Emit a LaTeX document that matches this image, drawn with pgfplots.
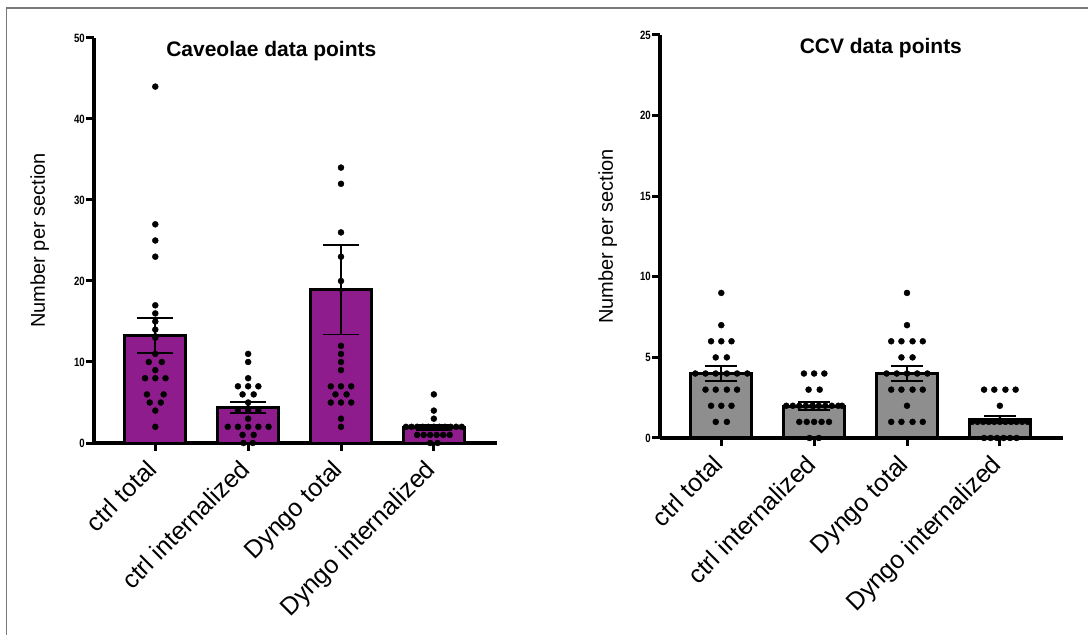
\documentclass[border=0pt]{standalone}
\usepackage{fontspec}
\setmainfont{Liberation Sans}
\newfontfamily\narrowfont[FakeStretch=0.8]{Liberation Sans}
\usepackage{pgfplots}
\pgfplotsset{compat=1.18}
\definecolor{cavpurple}{RGB}{142,28,140}
\definecolor{ccvgray}{RGB}{142,142,142}
\definecolor{framegray}{RGB}{120,120,120}
\pgfplotsset{prism/.style={
  scale only axis, width=403pt,
  axis lines=left,
  axis line style={line width=3.2pt,-,black},
  x axis line style={line width=3.2pt,-},
  y axis line style={line width=3.2pt,-},
  xmin=-0.66, xmax=3.68, ymin=0,
  xtick={0,1,2,3},
  xticklabels={ctrl total, ctrl internalized, Dyngo total, Dyngo internalized},
  x tick label style={rotate=45, anchor=north east, font=\fontsize{25}{25}\selectfont, inner sep=0pt, xshift=-12pt, yshift=2pt},
  tick align=outside, major tick length=8pt,
  every tick/.append style={line width=3pt, black},
  /pgf/number format/assume math mode=true,
  y tick label style={font=\narrowfont\bfseries\fontsize{12}{12}\selectfont, inner sep=1pt},
  ylabel={Number per section},
  ylabel style={font=\fontsize{20}{20}\selectfont, at={(axis description cs:-0.135,0.5)}, anchor=center},
  title style={font=\bfseries\fontsize{21}{21}\selectfont, anchor=north},
  clip=false,
}}
\begin{document}
\begin{tikzpicture}[x=1pt,y=1pt]
\useasboundingbox (0,0) rectangle (1088,635);
\draw[framegray, line width=1.6pt] (1095,627) -- (6.5,627) -- (6.5,-5);
% ---------------- Left: Caveolae ----------------
\begin{axis}[prism, at={(94pt,192pt)}, anchor=south west, height=405pt,
  ymax=50, ytick={0,10,20,30,40,50},
  title={Caveolae data points}, title style={at={(axis description cs:0.44,0.985)}}]
\addplot[ybar, bar width=61pt, fill=cavpurple, draw=black, line width=3pt]
  coordinates {(0,13.3) (1,4.4) (2,18.9) (3,1.95)};
\addplot[only marks, mark=*, mark size=3pt, black] coordinates {
 (0,44) (0,27) (0,25) (0,23) (0,17) (0,16) (0,15) (0,14) (0,13) (0,11)
 (-0.07,10) (0.07,10) (0,9) (-0.11,8) (0,8) (0.11,8) (-0.09,6) (0.09,6)
 (-0.06,5) (0.06,5) (0,4) (0,2)
 (1,11) (1,10) (1,8) (0.89,7) (1,7) (1.11,7) (0.94,6) (1.06,6) (1,5)
 (0.89,4) (1,4) (1.11,4) (1,3) (0.78,2) (0.89,2) (1,2) (1.11,2) (1.22,2)
 (0.94,1) (1.06,1) (0.95,0) (1.05,0)
 (2,34) (2,32) (2,26) (2,23) (2,20) (2,12) (2,11) (2,10) (2,9)
 (1.89,7) (2,7) (2.11,7) (1.94,6) (2.06,6) (1.89,5) (2,5) (2.11,5) (2,3) (2,2)
 (3,6) (3,4) (3,3)
 (2.7,2) (2.76,2) (2.82,2) (2.88,2) (2.94,2) (3,2) (3.06,2) (3.12,2) (3.18,2) (3.24,2) (3.3,2)
 (2.82,1) (2.89,1) (2.96,1) (3.03,1) (3.1,1) (3.17,1)
 (2.96,0) (3.04,0)
};
\addplot[only marks, mark=none, error bars/.cd, y dir=both, y explicit, error mark=|,
  error bar style={line width=1.8pt, black},
  error mark options={mark size=18pt, line width=1.8pt, black}]
  coordinates {(0,13.3) +- (0,2.15) (1,4.4) +- (0,0.7) (2,18.9) +- (0,5.5) (3,1.95) +- (0,0.3)};
\end{axis}
% ---------------- Right: CCV ----------------
\begin{axis}[prism, at={(660pt,197pt)}, anchor=south west, height=403pt,
  ymax=25, ytick={0,5,10,15,20,25},
  ylabel style={at={(axis description cs:-0.13,0.5)}},
  title={CCV data points}, title style={at={(axis description cs:0.548,0.985)}}]
\addplot[ybar, bar width=61pt, fill=ccvgray, draw=black, line width=3pt]
  coordinates {(0,4.0) (1,1.97) (2,4.0) (3,1.15)};
\addplot[only marks, mark=*, mark size=3pt, black] coordinates {
 (0,9) (0,7) (-0.11,6) (0,6) (0.11,6) (-0.06,5) (0.06,5)
 (-0.28,4) (-0.17,4) (-0.06,4) (0.06,4) (0.17,4) (0.28,4)
 (-0.17,3) (-0.06,3) (0.06,3) (0.17,3) (-0.11,2) (0,2) (0.11,2) (-0.06,1) (0.06,1)
 (0.89,4) (1,4) (1.11,4) (0.94,3) (1.06,3)
 (0.7,2) (0.77,2) (0.84,2) (0.91,2) (0.98,2) (1.05,2) (1.12,2) (1.19,2) (1.26,2) (1.3,2)
 (0.84,1) (0.92,1) (1,1) (1.08,1) (1.16,1) (0.95,0) (1.05,0)
 (2,9) (2,7) (1.83,6) (1.94,6) (2.06,6) (2.17,6) (1.94,5) (2.06,5)
 (1.78,4) (1.89,4) (2,4) (2.11,4) (2.22,4)
 (1.83,3) (1.94,3) (2.06,3) (2.17,3) (2,2) (1.83,1) (1.94,1) (2.06,1) (2.17,1)
 (2.83,3) (2.94,3) (3.06,3) (3.17,3) (3,2)
 (2.7,1) (2.76,1) (2.82,1) (2.88,1) (2.94,1) (3,1) (3.06,1) (3.12,1) (3.18,1) (3.24,1) (3.3,1)
 (2.83,0) (2.9,0) (2.97,0) (3.04,0) (3.11,0) (3.18,0)
};
\addplot[only marks, mark=none, error bars/.cd, y dir=both, y explicit, error mark=|,
  error bar style={line width=1.8pt, black},
  error mark options={mark size=16pt, line width=1.8pt, black}]
  coordinates {(0,4.0) +- (0,0.46) (1,1.97) +- (0,0.24) (2,4.0) +- (0,0.48) (3,1.15) +- (0,0.22)};
\end{axis}
\end{tikzpicture}
\end{document}
